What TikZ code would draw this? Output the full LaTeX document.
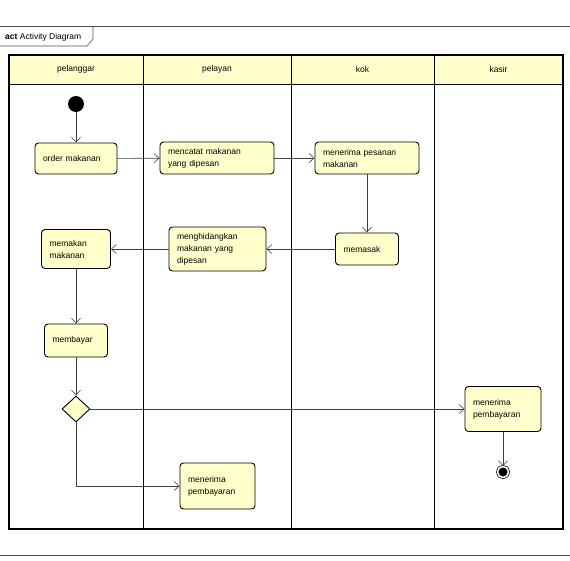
\documentclass[tikz,border=0pt]{standalone}
\usepackage{fontspec}
\setmainfont{Liberation Sans}
\usepackage{tikz}
\usetikzlibrary{shapes.geometric}
\usetikzlibrary{arrows.meta}
\definecolor{actyellow}{RGB}{255,255,204}
\tikzset{
  uml_text/.style = {font=\fontsize{8.5}{12}\selectfont},
  lane_head/.style = {uml_text, rectangle, draw=black, fill=actyellow,
    line width=0.9pt, minimum height=29pt, inner sep=0pt},% kepala lajur
  lane_body/.style = {draw=black, line width=0.9pt},% badan lajur
  act_node/.style = {uml_text, rectangle, rounded corners=3.5pt, draw=black,
    fill=actyellow, line width=0.9pt, align=left, inner xsep=8pt,
    inner ysep=2pt},% aktivitas
  start_node/.style = {circle, fill=black, minimum size=16pt, inner sep=0pt},
  end_node/.style = {circle, fill=black, draw=black, double=white,
    double distance=1.6pt, line width=0.7pt, minimum size=11pt, inner sep=0pt},
  branch_node/.style = {diamond, draw=black, fill=actyellow, line width=0.9pt,
    minimum width=28pt, minimum height=26pt, inner sep=0pt},% keputusan
  flow/.style = {draw=black!75, line width=0.6pt,
    -{Straight Barb[length=5pt,width=9pt,line width=0.6pt]}}
}
\begin{document}
\begin{tikzpicture}[x=1pt, y=-1pt]
  \useasboundingbox (0,0) rectangle (570,560);
  % bingkai diagram
  \draw[black!70, line width=0.8pt] (0,26) -- (570,26);
  \draw[black!70, line width=0.8pt] (0,555) -- (570,555);
  \draw[black!70, line width=0.6pt] (0,46) -- (87,46) -- (93,39) -- (93,26);
  \node[uml_text, anchor=west, inner sep=0pt] (judul) at (5,37)
    {\textbf{act} Activity Diagram};
  % lajur
  \node[lane_head, minimum width=134pt] (h_pelanggar) at (76,69.5) {pelanggar};
  \node[lane_head, minimum width=148pt] (h_pelayan) at (217,69.5) {pelayan};
  \node[lane_head, minimum width=143pt] (h_kok) at (362.5,69.5) {kok};
  \node[lane_head, minimum width=129pt] (h_kasir) at (498.5,69.5) {kasir};
  \draw[lane_body] (9,84) rectangle (143,529);
  \draw[lane_body] (143,84) rectangle (291,529);
  \draw[lane_body] (291,84) rectangle (434,529);
  \draw[lane_body] (434,84) rectangle (563,529);
  \draw[black, line width=1.4pt] (9,529) |- (563,55) -- (563,529) -- cycle;
  % aktivitas
  \node[start_node] (mulai) at (76,104) {};
  \node[act_node, minimum height=31pt, text width=66pt] (order) at (76,158.5)
    {order makanan};
  \node[act_node, minimum height=32pt, text width=98pt] (catat) at (217,158)
    {mencatat makanan\\yang dipesan};
  \node[act_node, minimum height=32pt, text width=88pt] (terima_pesan) at (367,158)
    {menerima pesanan\\makanan};
  \node[act_node, minimum height=32pt, text width=47pt] (masak) at (367,249)
    {memasak};
  \node[act_node, minimum height=44pt, text width=81pt] (hidang) at (217.5,249)
    {menghidangkan\\makanan yang\\dipesan};
  \node[act_node, minimum height=39pt, text width=53pt] (makan) at (76,249)
    {memakan\\makanan};
  \node[act_node, minimum height=33pt, text width=47pt] (bayar) at (76,340.5)
    {membayar};
  \node[branch_node] (cabang) at (76,409) {};
  \node[act_node, minimum height=45pt, text width=60pt] (terima_kasir) at (503,409)
    {menerima\\pembayaran};
  \node[end_node] (akhir) at (503,472) {};
  \node[act_node, minimum height=46pt, text width=59pt] (terima_pelayan) at (217.5,486)
    {menerima\\pembayaran};
  % alur
  \draw[flow] (mulai) -- (order);
  \draw[flow] (order) -- (catat);
  \draw[flow] (catat) -- (terima_pesan);
  \draw[flow] (terima_pesan) -- (masak);
  \draw[flow] (masak) -- (hidang);
  \draw[flow] (hidang) -- (makan);
  \draw[flow] (makan) -- (bayar);
  \draw[flow] (bayar) -- (cabang);
  \draw[flow] (cabang) -- (terima_kasir);
  \draw[flow] (cabang) |- (terima_pelayan);
  \draw[flow] (terima_kasir) -- (akhir);
\end{tikzpicture}
\end{document}
